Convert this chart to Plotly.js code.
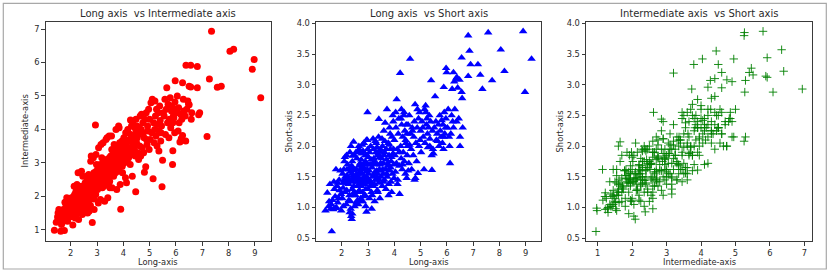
<!DOCTYPE html>
<html>
<head>
<meta charset="utf-8">
<script src="https://cdn.plot.ly/plotly-3.0.1.min.js"></script>
<style>html,body{margin:0;padding:0;background:#fff;}#chart{width:830px;height:274px;}</style>
</head>
<body>
<div id="chart"></div>
<script>
// Data: each index is one particle measured on three axes
const longAxis = [
  1.38,1.62,1.76,1.45,1.50,1.52,1.58,1.60,1.65,1.70,1.72,1.75,1.80,1.82,1.85,1.88,1.90,1.92,1.95,1.97,1.68,1.55,1.78,1.98,1.85,
  2.02,2.05,2.08,2.10,2.12,2.15,2.17,2.20,2.22,2.25,2.27,2.30,2.32,2.35,2.37,2.38,2.40,2.42,2.44,2.45,2.47,2.48,2.03,2.06,2.13,2.18,2.23,2.28,2.33,2.36,2.40,2.43,2.46,2.49,2.10,2.19,2.26,2.31,2.39,2.44,2.15,2.24,2.34,2.41,2.05,2.20,2.29,2.37,2.47,2.12,2.36,2.40,
  2.52,2.53,2.55,2.56,2.58,2.60,2.61,2.63,2.64,2.66,2.67,2.69,2.70,2.72,2.73,2.75,2.76,2.78,2.80,2.82,2.83,2.84,2.86,2.87,2.89,2.90,2.91,2.93,2.94,2.95,2.96,2.97,2.98,2.94,2.99,2.54,2.57,2.62,2.65,2.68,2.71,2.74,2.77,2.79,2.81,2.85,2.88,2.92,2.97,2.60,2.70,2.80,2.90,2.55,2.65,2.75,2.85,2.95,2.58,2.68,2.78,2.88,2.98,
  3.00,3.02,3.03,3.05,3.06,3.08,3.10,3.11,3.13,3.14,3.15,3.17,3.19,3.20,3.22,3.23,3.25,3.26,3.28,3.30,3.31,3.33,3.35,3.36,3.38,3.40,3.41,3.43,3.45,3.47,3.48,3.50,3.01,3.04,3.07,3.12,3.16,3.21,3.24,3.27,3.29,3.32,3.34,3.37,3.39,3.42,3.44,3.46,3.49,3.09,3.18,3.28,3.36,3.45,3.41,
  3.52,3.54,3.55,3.57,3.58,3.60,3.62,3.63,3.65,3.67,3.68,3.70,3.72,3.73,3.75,3.77,3.78,3.80,3.82,3.83,3.85,3.87,3.88,3.90,3.91,3.93,3.95,3.96,3.98,3.53,3.56,3.59,3.64,3.69,3.74,3.79,3.84,3.89,3.94,3.99,3.61,3.71,3.81,3.86,3.97,
  4.00,4.02,4.04,4.06,4.08,4.09,4.11,4.13,4.15,4.17,4.19,4.20,4.22,4.24,4.26,4.28,4.30,4.32,4.34,4.36,4.38,4.40,4.42,4.44,4.45,4.47,4.49,4.05,4.12,4.18,4.25,4.31,4.37,4.43,4.48,4.27,
  4.50,4.52,4.55,4.57,4.60,4.62,4.64,4.66,4.68,4.72,4.74,4.76,4.79,4.80,4.82,4.85,4.87,4.90,4.92,4.94,4.96,4.98,4.58,4.69,4.77,4.88,4.53,
  5.00,5.02,5.05,5.08,5.10,5.13,5.15,5.17,5.19,5.22,5.24,5.26,5.28,5.30,5.33,5.35,5.38,5.40,5.42,5.43,5.45,5.47,5.49,5.20,5.35,
  5.52,5.55,5.58,5.60,5.63,5.65,5.68,5.70,5.73,5.75,5.78,5.80,5.83,5.85,5.87,5.88,5.88,5.90,5.92,5.96,5.97,5.95,5.99,
  6.02,6.05,6.08,6.10,6.12,6.15,6.18,6.20,6.22,6.25,6.25,6.28,6.30,6.35,6.37,6.38,6.41,6.45,6.50,6.50,6.56,6.56,6.58,6.60,6.48,
  6.81,6.81,6.86,6.90,7.18,7.27,7.35,7.57,7.72,8.05,8.19,8.90,8.97,9.22
];
const intermediateAxis = [
  0.98,0.95,0.97,1.22,1.38,1.50,1.28,1.45,1.15,1.35,1.60,1.42,1.30,1.70,1.52,1.25,1.62,1.45,1.78,1.38,1.22,1.60,1.82,1.55,1.95,
  1.48,1.72,1.14,1.90,1.58,2.05,1.35,1.80,2.20,1.65,1.95,1.30,2.10,1.60,1.85,2.09,1.75,2.30,1.45,1.65,2.15,1.92,1.95,1.42,2.30,1.70,1.90,2.70,1.70,2.25,2.02,1.55,2.60,1.80,1.65,2.12,1.82,1.98,2.08,1.78,1.55,2.35,1.52,2.75,1.85,1.45,2.20,1.95,1.70,2.00,2.05,1.90,
  2.10,1.55,2.40,1.62,2.25,1.95,2.60,2.05,1.50,2.35,2.15,1.90,2.55,2.00,2.30,1.72,3.05,2.20,1.98,1.21,2.45,2.10,3.15,2.25,1.60,2.50,2.35,2.65,2.38,2.05,3.25,2.20,2.62,4.13,2.40,2.15,1.95,2.45,2.30,1.85,2.12,2.42,1.95,2.60,2.30,2.00,2.70,2.15,2.75,2.20,1.55,2.40,2.05,1.70,2.50,2.25,2.55,2.30,2.00,2.65,3.20,1.92,2.95,
  2.45,2.20,2.70,1.80,3.45,2.50,2.35,2.80,1.90,2.60,3.55,2.40,2.90,2.25,2.75,3.60,2.50,2.30,2.95,2.65,3.05,2.40,2.85,2.55,3.75,2.70,1.95,3.00,2.60,3.15,2.45,2.90,2.60,2.85,2.30,2.95,2.55,2.45,3.00,2.70,1.85,2.80,3.70,2.35,2.90,2.55,2.75,3.80,2.25,2.65,3.15,2.60,3.10,2.40,2.85,
  3.20,2.75,3.80,2.25,3.05,2.85,3.30,2.60,3.55,2.95,3.15,2.70,4.00,3.00,2.20,3.40,2.90,3.25,4.10,2.80,3.10,3.45,2.35,1.61,3.30,3.05,3.65,2.90,3.35,2.90,3.40,2.70,3.20,2.85,3.50,3.15,4.05,2.95,3.50,3.15,3.00,3.35,2.75,3.60,2.70,
  3.40,3.75,3.00,3.55,2.55,3.90,3.25,3.60,3.10,4.00,3.35,3.15,3.20,3.70,2.95,3.85,3.45,3.65,2.60,4.20,3.30,3.80,3.50,4.05,3.20,2.13,3.95,3.45,2.40,3.90,3.45,4.10,3.60,3.35,4.30,4.28,
  3.60,4.10,3.30,3.85,4.04,3.50,4.40,3.20,4.00,3.45,4.20,3.90,3.75,2.72,4.30,2.88,4.50,3.55,4.10,3.95,4.60,3.40,3.10,4.45,3.30,3.70,3.75,
  4.30,3.70,4.80,3.90,4.90,2.52,4.20,3.60,4.00,4.40,3.80,4.60,3.50,4.15,4.50,3.95,4.70,4.27,3.65,3.90,4.10,2.28,3.08,4.85,3.35,
  4.50,4.40,4.90,3.85,4.60,5.25,4.20,4.75,3.75,4.30,4.95,4.05,4.55,4.70,2.95,3.36,4.20,4.40,4.35,4.82,5.46,3.90,4.60,
  4.50,5.00,3.95,4.65,4.20,3.62,4.45,3.73,4.30,5.40,3.82,4.90,4.55,4.40,3.65,5.92,4.60,4.85,4.74,5.29,5.27,5.92,4.30,4.50,4.75,
  5.88,5.25,4.44,4.50,3.79,5.51,6.94,5.26,5.29,6.34,6.40,5.80,6.09,4.95
];
const shortAxis = [
  0.95,0.61,0.99,1.24,1.02,1.10,0.98,1.05,1.12,1.42,1.30,1.18,1.00,1.35,1.08,1.15,1.45,1.28,1.60,1.22,0.97,1.38,1.62,0.95,1.40,
  1.15,1.32,1.62,1.45,1.25,1.48,1.05,1.52,1.70,1.38,1.12,0.92,1.58,2.00,1.42,0.81,1.30,1.65,1.20,2.07,1.48,1.85,1.55,1.02,1.50,1.85,1.40,1.62,1.10,1.45,1.75,1.52,1.35,1.02,1.75,1.28,1.47,1.90,1.55,1.60,1.40,1.44,0.98,1.84,1.40,1.62,1.20,1.68,1.25,1.82,0.86,0.90,
  1.45,1.20,1.62,1.08,1.80,1.35,1.50,1.05,1.42,1.95,1.28,1.58,1.72,1.15,1.46,1.35,1.88,1.55,1.10,1.18,1.65,2.05,1.50,1.38,1.20,1.75,1.02,1.58,0.93,1.42,1.85,1.62,2.55,2.10,1.95,1.90,1.55,1.25,1.68,1.90,1.38,1.78,1.45,1.25,1.92,1.62,1.45,1.30,2.10,1.12,1.62,1.40,1.85,1.48,2.00,1.10,1.70,1.50,1.42,1.55,2.02,1.48,1.70,
  1.30,1.55,1.45,1.15,1.90,1.70,2.00,1.42,1.25,0.98,1.65,1.50,2.12,1.35,1.80,1.55,1.10,1.75,1.45,1.90,2.05,1.60,1.28,1.48,1.85,2.15,1.40,1.62,1.15,1.95,1.72,1.50,1.82,1.60,1.40,1.78,1.20,1.95,1.38,1.58,1.52,1.70,1.98,1.25,1.88,1.45,1.82,1.70,1.60,1.35,1.72,2.08,1.55,1.92,2.44,
  1.80,1.35,2.00,1.55,1.72,2.25,1.45,1.90,2.38,1.62,1.30,1.78,2.60,1.50,1.68,2.05,1.20,1.85,2.30,1.60,1.95,1.42,1.75,1.25,2.15,1.55,1.88,2.40,1.70,2.12,1.62,1.42,2.08,1.95,1.72,1.38,2.20,1.82,2.50,1.48,1.85,1.55,2.02,1.65,1.95,
  2.10,1.85,1.58,2.30,1.72,2.76,1.95,1.45,2.20,2.45,1.68,1.22,3.19,2.00,1.80,2.35,1.62,2.15,1.90,2.50,1.75,2.25,1.55,2.05,2.35,1.48,1.85,2.55,1.38,1.90,2.45,1.70,2.55,2.10,2.20,2.60,
  2.00,2.35,1.72,2.50,3.42,2.20,1.95,1.62,2.30,1.85,2.15,2.40,2.68,1.48,2.05,1.75,2.30,1.56,2.45,2.00,2.55,2.10,2.02,2.25,1.45,2.60,1.60,
  2.25,1.90,2.40,2.30,2.15,1.62,2.60,2.05,2.66,2.35,2.45,2.20,1.98,2.30,2.50,2.12,2.40,3.07,1.85,1.61,2.25,1.95,1.88,2.55,2.00,
  2.30,2.81,2.40,2.10,2.20,2.08,2.35,2.00,2.50,2.25,2.15,2.42,2.05,2.35,1.95,2.15,2.96,2.55,2.20,2.45,3.27,2.30,3.20,
  2.30,2.60,2.15,2.00,1.72,2.20,2.50,2.93,2.40,3.20,2.30,3.05,2.60,3.10,2.40,3.12,2.95,2.45,2.00,2.15,2.88,3.44,2.78,2.30,3.08,
  3.14,3.80,3.55,3.33,3.33,3.16,2.93,3.85,3.07,3.57,3.22,3.87,2.88,3.42
];

const panelTitles = ['Long axis  vs Intermediate axis', 'Long axis  vs Short axis', 'Intermediate axis  vs Short axis'];
const xTitles = ['Long-axis', 'Long-axis', 'Intermediate-axis'];
const yTitles = ['Intermediate-axis', 'Short-axis', 'Short-axis'];

const W = 830, H = 274;
const px = v => v / W;
const py = v => 1 - v / H;

const FONT = 'DejaVu Sans, Liberation Sans, sans-serif';
const TXT = '#2b2b2b';
const LINE = '#3a3a3a';

const axisBase = {
  showgrid: false, zeroline: false, showline: true, mirror: true,
  linecolor: LINE, linewidth: 1,
  ticks: 'outside', ticklen: 3.5, tickwidth: 1, tickcolor: LINE,
  tickfont: {family: FONT, size: 8.3, color: TXT},
  fixedrange: true
};

const xDomains = [[px(45.7), px(271)], [px(316), px(541)], [px(586), px(812.3)]];
const yDomain = [py(241.3), py(21.5)];

const traces = [
  {x: longAxis, y: intermediateAxis, xaxis: 'x', yaxis: 'y', type: 'scatter', mode: 'markers',
   marker: {symbol: 'circle', size: 7, color: '#ff0000', line: {width: 0}}},
  {x: longAxis, y: shortAxis, xaxis: 'x2', yaxis: 'y2', type: 'scatter', mode: 'markers',
   marker: {symbol: 'triangle-up', size: 7.5, color: '#0000ff', line: {width: 0}}},
  {x: intermediateAxis, y: shortAxis, xaxis: 'x3', yaxis: 'y3', type: 'scatter', mode: 'markers',
   marker: {symbol: 'cross-thin', size: 6, color: '#008000', line: {color: '#008000', width: 0.9}}}
];

const centers = xDomains.map(d => (d[0] + d[1]) / 2);
const yTitleX = [px(25), px(289), px(560)];
const annotations = [];
for (let i = 0; i < 3; i++) {
  annotations.push({text: panelTitles[i], xref: 'paper', yref: 'paper', x: centers[i], y: py(13),
    xanchor: 'center', yanchor: 'middle', showarrow: false, font: {family: FONT, size: 10, color: TXT}});
  annotations.push({text: xTitles[i], xref: 'paper', yref: 'paper', x: centers[i], y: py(262),
    xanchor: 'center', yanchor: 'middle', showarrow: false, font: {family: FONT, size: 8.3, color: TXT}});
  annotations.push({text: yTitles[i], xref: 'paper', yref: 'paper', x: yTitleX[i], y: (yDomain[0] + yDomain[1]) / 2,
    xanchor: 'center', yanchor: 'middle', textangle: -90, showarrow: false, font: {family: FONT, size: 8.3, color: TXT}});
}

const layout = {
  width: W, height: H,
  margin: {l: 0, r: 0, t: 0, b: 0, pad: 0},
  paper_bgcolor: '#ffffff', plot_bgcolor: '#ffffff',
  showlegend: false,
  xaxis:  Object.assign({}, axisBase, {domain: xDomains[0], range: [1.05, 9.61], tick0: 0, dtick: 1, anchor: 'y'}),
  yaxis:  Object.assign({}, axisBase, {domain: yDomain, range: [0.65, 7.23], tick0: 0, dtick: 1, anchor: 'x'}),
  xaxis2: Object.assign({}, axisBase, {domain: xDomains[1], range: [1.02, 9.58], tick0: 0, dtick: 1, anchor: 'y2'}),
  yaxis2: Object.assign({}, axisBase, {domain: yDomain, range: [0.45, 4.03], tick0: 0, dtick: 0.5, tickformat: '.1f', anchor: 'x2'}),
  xaxis3: Object.assign({}, axisBase, {domain: xDomains[2], range: [0.66, 7.23], tick0: 0, dtick: 1, anchor: 'y3'}),
  yaxis3: Object.assign({}, axisBase, {domain: yDomain, range: [0.45, 4.03], tick0: 0, dtick: 0.5, tickformat: '.1f', anchor: 'x3'}),
  annotations: annotations,
  shapes: [{type: 'rect', xref: 'paper', yref: 'paper', x0: px(3.3), x1: px(826.3), y0: py(269), y1: py(3.3),
    line: {color: '#a8a8a8', width: 1.2}, fillcolor: 'rgba(0,0,0,0)', layer: 'below'}]
};

Plotly.newPlot('chart', traces, layout, {displayModeBar: false, staticPlot: true});
</script>
</body>
</html>
